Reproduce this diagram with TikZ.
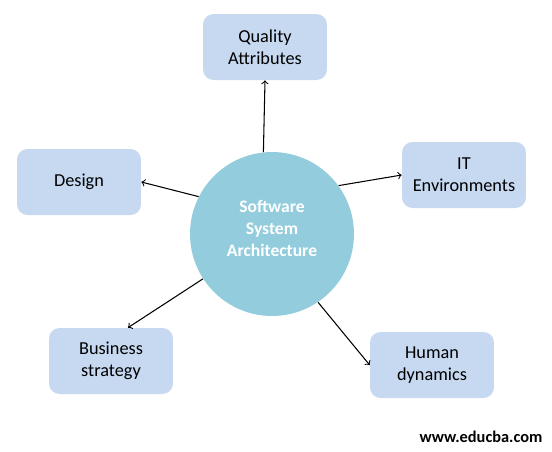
\documentclass[tikz,border=0pt]{standalone}
\usepackage{fontspec}
\setmainfont{Carlito}
\definecolor{cajaazul}{HTML}{C6D9F1}
\definecolor{centrocian}{HTML}{93CDDD}
\begin{document}
\begin{tikzpicture}[x=0.02cm,y=-0.02cm]
\tikzset{caja/.style={rectangle,rounded corners=6pt,minimum width=2.48cm,minimum height=1.32cm,inner sep=0pt,fill=cajaazul,text=black,align=center,font=\fontsize{10.4}{12.7}\selectfont}}
\tikzset{centro/.style={circle,minimum size=3.28cm,inner sep=0pt,fill=centrocian,text=white,align=center,font=\bfseries\fontsize{10}{12.5}\selectfont}}
\tikzset{flecha/.style={->, line width=0.6pt}}

  \useasboundingbox (0,0) rectangle (552,451);

  \draw (272,234) node[centro] (s) {Software\\System\\Architecture\\[-6.5pt]};
  \draw (265,47) node[caja] (q) {Quality\\Attributes};
  \draw (464,175) node[caja] (it) {IT\\Environments};
  \draw (79,182) node[caja] (d) {Design};
  \draw (111,361) node[caja] (b) {Business\\strategy};
  \draw (432,365) node[caja] (h) {Human\\dynamics};
  \draw (481,437) node[font=\bfseries\fontsize{9.3}{11}\selectfont] (w) {www.educba.com};

  \draw [flecha] (s.96) to (q.south);
  \draw [flecha] (s.36) to (it.west);
  \draw [flecha] (s.153) to (d.east);
  \draw [flecha] (s.213) to (b.63);
  \draw [flecha] (s.304) to (h.west);

\end{tikzpicture}
\end{document}
